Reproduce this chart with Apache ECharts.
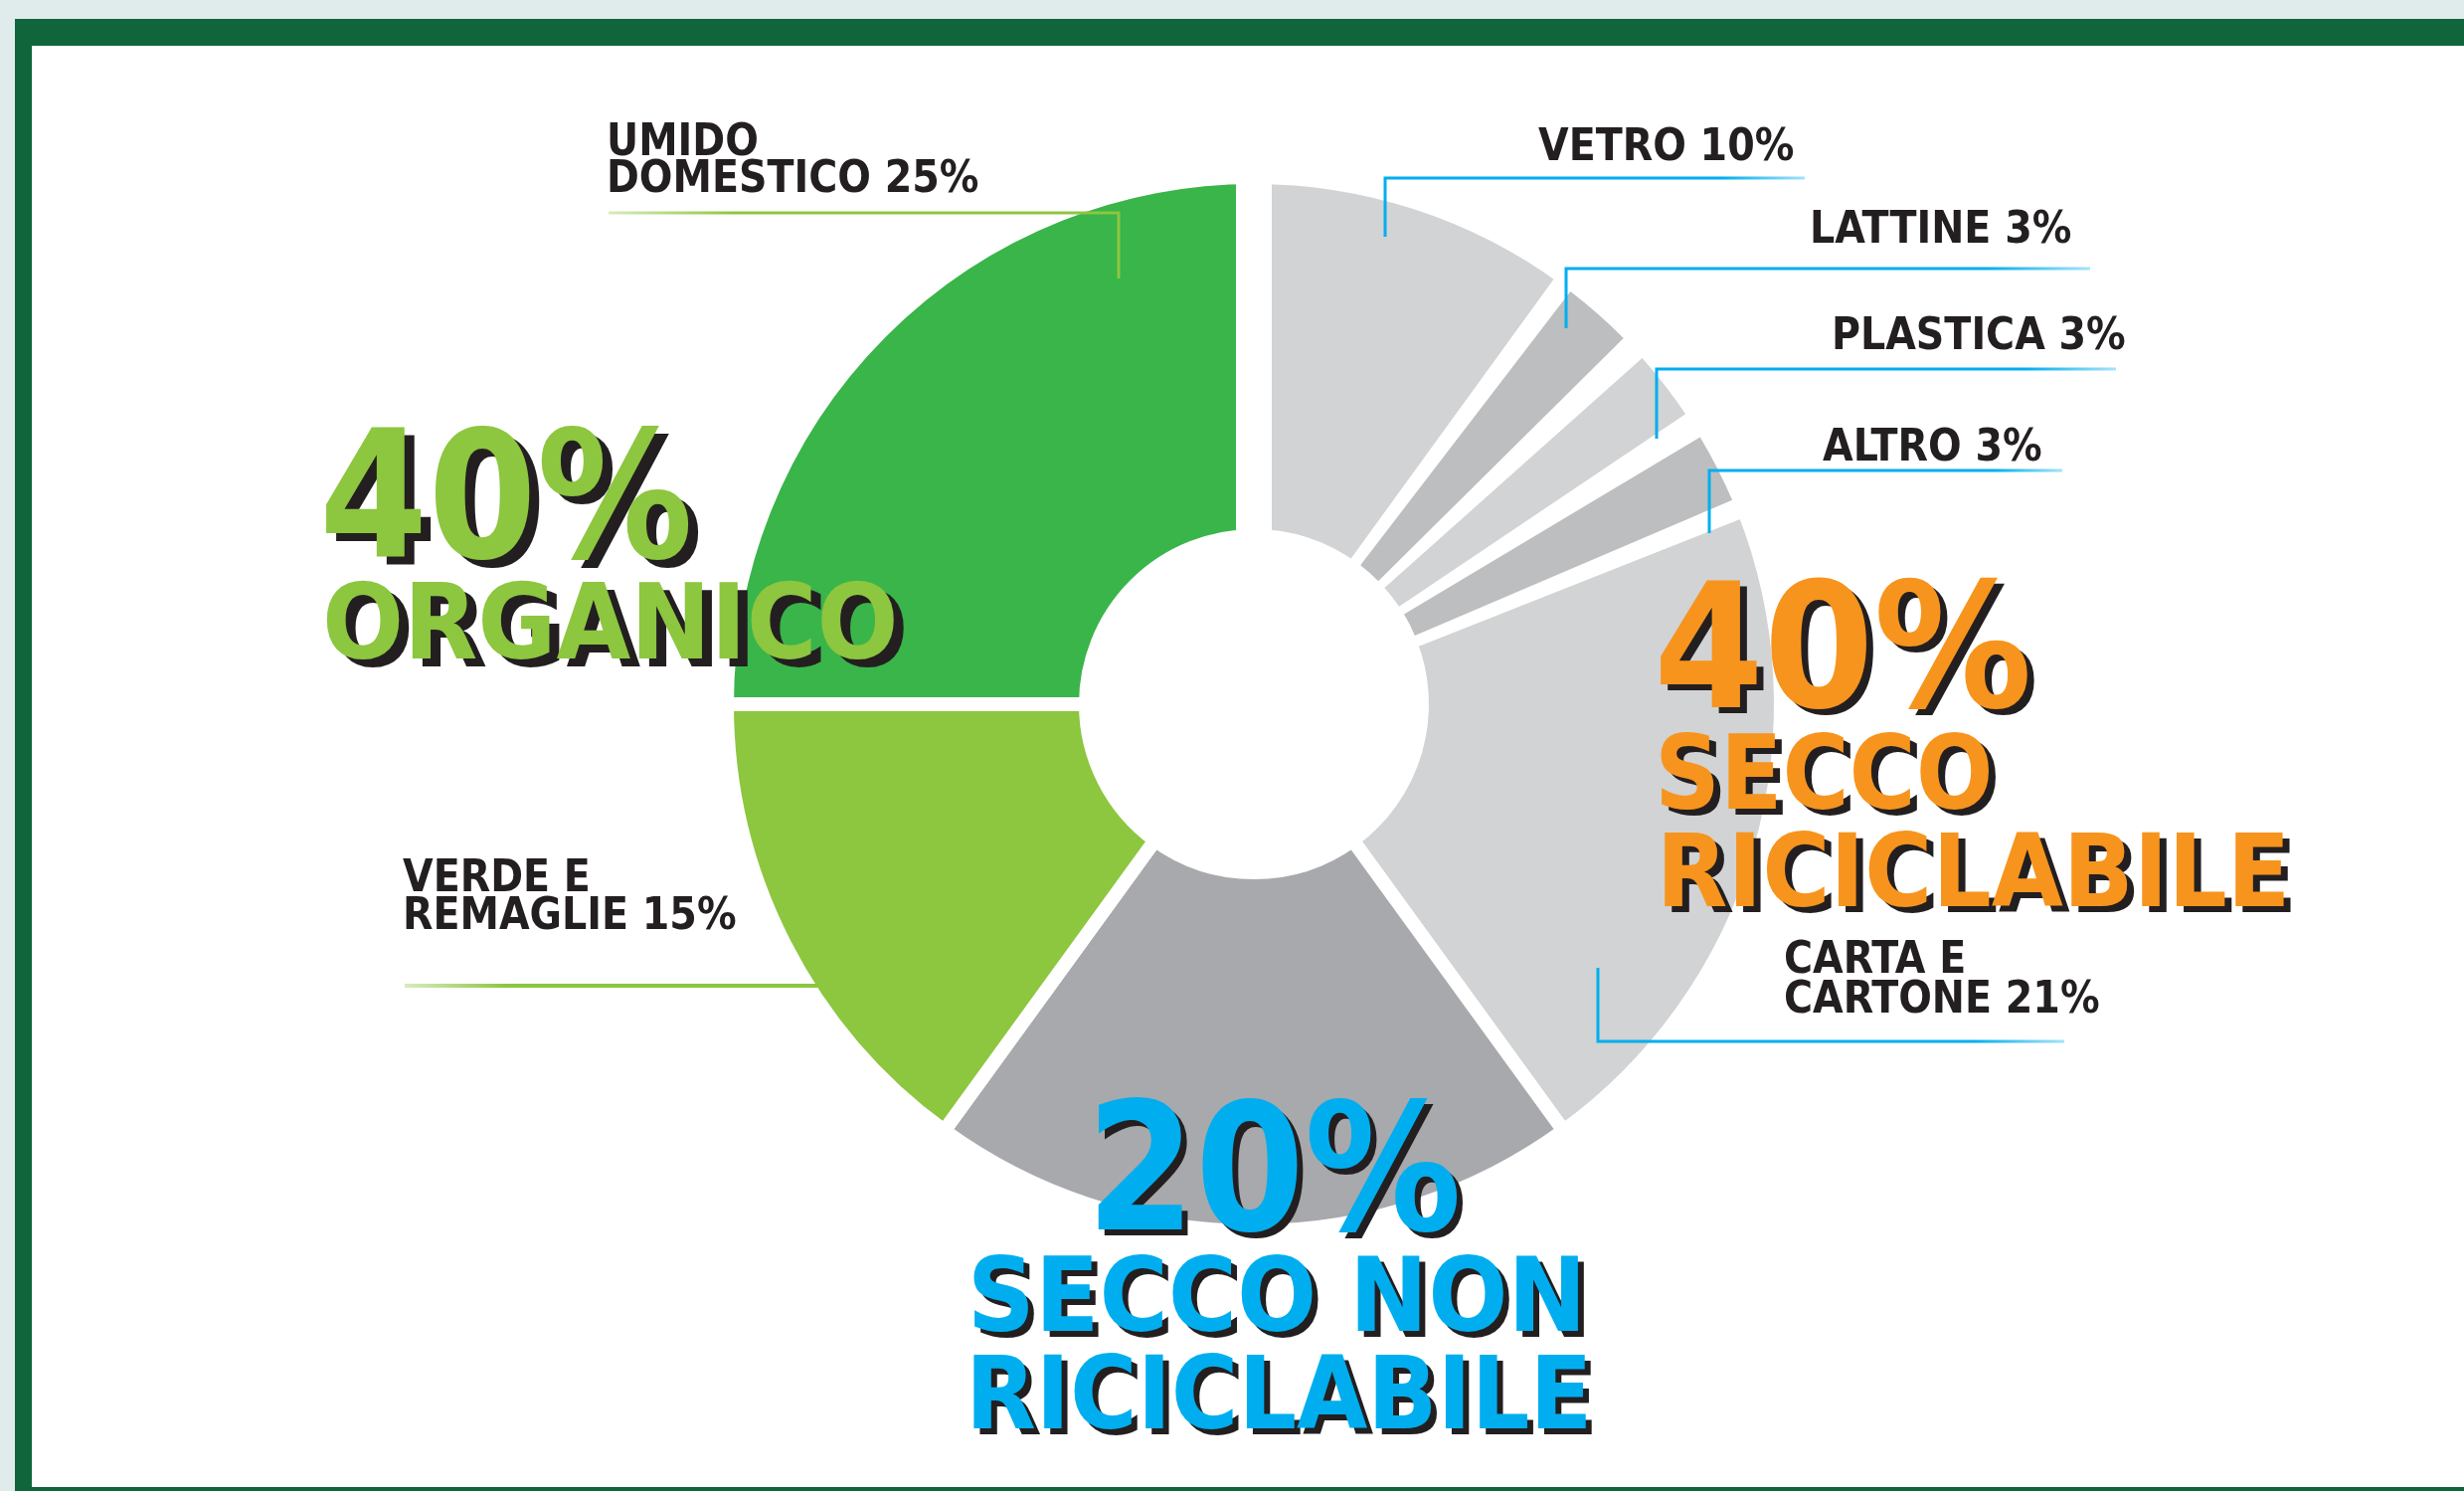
<!DOCTYPE html>
<html>
<head>
<meta charset="utf-8">
<script src="https://cdn.jsdelivr.net/npm/echarts@6/dist/echarts.min.js"></script>
<style>
html,body{margin:0;padding:0;background:#e0ecec;}
#c{width:2478px;height:1499px;}
</style>
</head>
<body>
<div id="c"></div>
<script>
// ---------------- DATA ----------------
const sliceNames  = ['VETRO', 'LATTINE', 'PLASTICA', 'ALTRO', 'CARTA E\nCARTONE', 'SECCO NON RICICLABILE', 'VERDE E\nREMAGLIE', 'UMIDO\nDOMESTICO'];
const sliceValues = [10, 3, 3, 3, 21, 20, 15, 25];
const sliceGroup  = [1, 1, 1, 1, 1, 2, 0, 0];
const groupLines  = [['ORGANICO'], ['SECCO', 'RICICLABILE'], ['SECCO NON', 'RICICLABILE']];
const sliceLabelShown = [true, true, true, true, true, false, true, true];

// ---------------- STYLE / LAYOUT ----------------
const FONT = '"DejaVu Sans Condensed", "DejaVu Sans", sans-serif';
const sliceColors = ['#d1d3d4', '#bcbec0', '#d1d3d4', '#bcbec0', '#d1d3d4', '#a7a9ac', '#8dc63f', '#39b54a'];
const thinWedge   = [false, true, true, true, false, false, false, false]; // drawn with angular gaps
const lineColors  = ['#00aeef', '#00aeef', '#00aeef', '#00aeef', '#00aeef', '#00aeef', '#8dc63f', '#8dc63f'];
const lineFadeLeft = [false, false, false, false, false, false, true, true];
const groupColors = ['#8dc63f', '#f7941d', '#00aeef'];
const SHADOW = '#231f20';
const PIE_CENTER = [1261, 708];
const PIE_RADIUS = [169, 530];
const GAP = 14;          // white gap between slices
const TOP_GAP = 36;      // wider gap at 12 o'clock
const WEDGE_PAD = 3;     // degrees between the thin wedges

// label anchor (top-left), line height, leader line polyline
const labelLayoutCfg = [
  { x: 1547, y: 131, lh: 37, line: [[1393, 238], [1393, 179], [1815, 179]] },
  { x: 1820, y: 214, lh: 37, line: [[1575, 330], [1575, 270], [2102, 270]] },
  { x: 1842, y: 321, lh: 37, line: [[1666, 441], [1666, 371], [2128, 371]] },
  { x: 1833, y: 433, lh: 37, line: [[1719, 536], [1719, 473], [2074, 473]] },
  { x: 1794, y: 947, lh: 40, line: [[1607, 973], [1607, 1047], [2076, 1047]] },
  null,
  { x: 405, y: 866, lh: 38, line: [[823, 991], [407, 991]] },
  { x: 610, y: 126, lh: 37, line: [[1125, 280], [1125, 214], [612, 214]] }
];

// big group text boxes (glyph bounds): first line is the percentage
const groupTextBoxes = [
  [{ l: 328, t: 428, r: 693, b: 563 }, { l: 328, t: 583, r: 899, b: 663 }],
  [{ l: 1670, t: 580, r: 2039, b: 713 }, { l: 1670, t: 735, r: 2000, b: 813 }, { l: 1674, t: 835, r: 2297, b: 912 }],
  [{ l: 1104, t: 1103, r: 1466, b: 1238 }, { l: 979, t: 1260, r: 1587, b: 1338 }, { l: 979, t: 1360, r: 1595, b: 1437 }]
];
const groupShadow = [[10, 8], [7, 6], [6, 6]];

// ---------------- BUILD ----------------
const total = sliceValues.reduce((a, b) => a + b, 0);
const groupTotals = groupLines.map((_, g) =>
  sliceValues.reduce((s, v, i) => s + (sliceGroup[i] === g ? v : 0), 0));

const mctx = document.createElement('canvas').getContext('2d');
function fitText(text, box, fill, dx, dy) {
  const F0 = 100;
  mctx.font = 'bold ' + F0 + 'px ' + FONT;
  mctx.textBaseline = 'middle';
  mctx.textAlign = 'left';
  let m = mctx.measureText(text);
  const h0 = m.actualBoundingBoxAscent + m.actualBoundingBoxDescent;
  const fs = F0 * (box.b - box.t) / h0;
  mctx.font = 'bold ' + fs + 'px ' + FONT;
  m = mctx.measureText(text);
  const w = m.actualBoundingBoxLeft + m.actualBoundingBoxRight;
  const s = (box.r - box.l) / w;
  const x = box.l + m.actualBoundingBoxLeft * s;
  const y = box.t + m.actualBoundingBoxAscent;
  const font = 'bold ' + fs + 'px ' + FONT;
  const mk = (xx, yy, col, z) => ({
    type: 'text', x: xx, y: yy, scaleX: s, z: z, silent: true,
    style: { text: text, font: font, fill: col, textAlign: 'left', textVerticalAlign: 'middle', align: 'left', verticalAlign: 'middle' }
  });
  return [mk(x + dx, y + dy, SHADOW, 100), mk(x, y, fill, 101)];
}

const graphics = [
  { type: 'rect', z: -10, silent: true, shape: { x: 15, y: 19, width: 2463, height: 1480 }, style: { fill: '#10663a' } },
  { type: 'rect', z: -9, silent: true, shape: { x: 32, y: 46, width: 2446, height: 1449 }, style: { fill: '#ffffff' } },
  // widen the separation at 12 o'clock (between first and last slice)
  { type: 'rect', z: 50, silent: true,
    shape: { x: PIE_CENTER[0] - TOP_GAP / 2, y: PIE_CENTER[1] - PIE_RADIUS[1] - 4, width: TOP_GAP, height: PIE_RADIUS[1] + 4 - PIE_RADIUS[0] + 8 },
    style: { fill: '#ffffff' } }
];
groupLines.forEach((lines, g) => {
  const texts = [groupTotals[g] + '%'].concat(lines);
  texts.forEach((t, k) => {
    fitText(t, groupTextBoxes[g][k], groupColors[g], groupShadow[g][0], groupShadow[g][1]).forEach(e => graphics.push(e));
  });
});

function fadeColor(c, left) {
  const faded = c + '55';
  const stops = left
    ? [{ offset: 0, color: faded }, { offset: 0.25, color: c }, { offset: 1, color: c }]
    : [{ offset: 0, color: c }, { offset: 0.8, color: c }, { offset: 1, color: faded }];
  return { type: 'linear', x: 0, y: 0, x2: 1, y2: 0, colorStops: stops };
}

// visible ring (thin wedges left transparent here, drawn by the wedge series)
const ringData = sliceNames.map((n, i) => ({
  name: n, value: sliceValues[i], itemStyle: { color: thinWedge[i] ? 'rgba(0,0,0,0)' : sliceColors[i] }
}));

// thin wedges: same values, placed on their own angular span of the ring
const wedgeIdx = sliceNames.map((_, i) => i).filter(i => thinWedge[i]);
const before = sliceValues.slice(0, wedgeIdx[0]).reduce((a, b) => a + b, 0);
const span = wedgeIdx.reduce((s, i) => s + sliceValues[i], 0);
const wedgeStart = 90 - 360 * before / total;
const wedgeEnd = 90 - 360 * (before + span) / total;
const wedgeData = wedgeIdx.map(i => ({ name: sliceNames[i], value: sliceValues[i], itemStyle: { color: sliceColors[i] } }));

// label layer (same data, transparent sectors) drawn above the ring
const labelData = sliceNames.map((n, i) => ({
  name: n,
  value: sliceValues[i],
  label: { show: sliceLabelShown[i], lineHeight: labelLayoutCfg[i] ? labelLayoutCfg[i].lh : 37 },
  labelLine: { show: sliceLabelShown[i], lineStyle: { color: fadeColor(lineColors[i], lineFadeLeft[i]), width: i === 6 ? 4 : 3 } }
}));

const chart = echarts.init(document.getElementById('c'), null, { renderer: 'canvas' });
chart.setOption({
  backgroundColor: '#e0ecec',
  animation: false,
  graphic: { elements: graphics },
  series: [{
    type: 'pie',
    z: 2,
    center: PIE_CENTER,
    radius: PIE_RADIUS,
    startAngle: 90,
    clockwise: true,
    silent: true,
    itemStyle: { borderColor: '#ffffff', borderWidth: GAP },
    label: { show: false },
    labelLine: { show: false },
    data: ringData
  }, {
    type: 'pie',
    z: 3,
    center: PIE_CENTER,
    radius: [PIE_RADIUS[0] + GAP / 2, PIE_RADIUS[1] - GAP / 2],
    startAngle: wedgeStart,
    endAngle: wedgeEnd,
    clockwise: true,
    padAngle: WEDGE_PAD,
    silent: true,
    itemStyle: { borderWidth: 0 },
    label: { show: false },
    labelLine: { show: false },
    data: wedgeData
  }, {
    type: 'pie',
    z: 60,
    center: PIE_CENTER,
    radius: PIE_RADIUS,
    startAngle: 90,
    clockwise: true,
    avoidLabelOverlap: false,
    silent: true,
    itemStyle: { color: 'rgba(0,0,0,0)', borderWidth: 0 },
    label: {
      show: true,
      position: 'outside',
      overflow: 'none',
      color: '#231f20',
      fontFamily: FONT,
      fontWeight: 'bold',
      fontSize: 44,
      formatter: p => p.name + ' ' + p.value + '%'
    },
    labelLine: { show: true, length: 10, length2: 10, smooth: false },
    labelLayout: function (params) {
      const L = labelLayoutCfg[params.dataIndex];
      if (!L) return {};
      return { x: L.x, y: L.y, align: 'left', verticalAlign: 'top', labelLinePoints: L.line };
    },
    data: labelData
  }]
});
</script>
</body>
</html>
